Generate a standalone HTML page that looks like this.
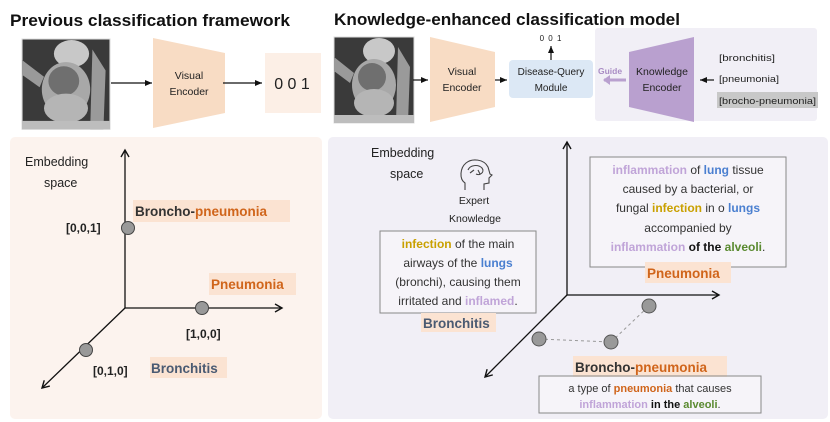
<!DOCTYPE html>
<html><head><meta charset="utf-8"><style>
html,body{margin:0;padding:0;background:#fff;}
svg{display:block;font-family:"Liberation Sans",sans-serif;}
</style></head><body>
<svg width="830" height="422" viewBox="0 0 830 422" xmlns="http://www.w3.org/2000/svg">
<defs>
<marker id="ah" markerWidth="10" markerHeight="10" refX="8" refY="5" orient="auto" markerUnits="userSpaceOnUse"><path d="M1,1 L8,5 L1,9" fill="none" stroke="#111" stroke-width="1.4"/></marker>
<marker id="as" markerWidth="8" markerHeight="8" refX="7" refY="4" orient="auto" markerUnits="userSpaceOnUse"><path d="M0,1 L7,4 L0,7 z" fill="#111"/></marker>
<marker id="ap" markerWidth="8" markerHeight="10" refX="6" refY="5" orient="auto" markerUnits="userSpaceOnUse"><path d="M0,0 L7,5 L0,10 z" fill="#b9a0cf"/></marker>
<g id="xray">
<rect x="0" y="0" width="80" height="86" fill="#3a3a3a"/>
<rect x="0" y="0" width="80" height="86" fill="none" stroke="#ddd" stroke-width="1"/>
<ellipse cx="45" cy="14" rx="16" ry="13" fill="#c8c8c8"/>
<ellipse cx="40" cy="48" rx="22" ry="26" fill="#a8a8a8"/>
<ellipse cx="38" cy="40" rx="14" ry="14" fill="#6f6f6f"/>
<ellipse cx="40" cy="66" rx="20" ry="14" fill="#b5b5b5"/>
<path d="M0,20 L20,36 L16,46 L0,34 z" fill="#9a9a9a"/>
<path d="M64,10 L76,30 L74,86 L62,86 z" fill="#9a9a9a"/>
<rect x="0" y="78" width="80" height="8" fill="#bdbdbd"/>
</g>
</defs>

<text x="10" y="26" font-size="16.5" font-weight="bold" fill="#111" textLength="280" lengthAdjust="spacingAndGlyphs">Previous classification framework</text>
<text x="334" y="25" font-size="16.5" font-weight="bold" fill="#111" textLength="346" lengthAdjust="spacingAndGlyphs">Knowledge-enhanced classification model</text>

<use href="#xray" x="22" y="39" transform="translate(22,39) scale(1.1,1.05) translate(-22,-39)"/>
<line x1="111" y1="83" x2="152" y2="83" stroke="#111" stroke-width="1.2" marker-end="url(#as)"/>
<path d="M153,38 L225,53 L225,113 L153,128 z" fill="#f8dcc4"/>
<text x="189" y="79" font-size="10.5" text-anchor="middle" fill="#222">Visual</text>
<text x="189" y="95" font-size="10.5" text-anchor="middle" fill="#222">Encoder</text>
<line x1="223" y1="83" x2="262" y2="83" stroke="#111" stroke-width="1.2" marker-end="url(#as)"/>
<rect x="265" y="53" width="56" height="60" fill="#fcefe6"/>
<text x="292" y="89" font-size="16" text-anchor="middle" fill="#222">0 0 1</text>

<use href="#xray" x="334" y="37"/>
<line x1="413" y1="80" x2="428" y2="80" stroke="#111" stroke-width="1.2" marker-end="url(#as)"/>
<path d="M430,37 L495,52 L495,107 L430,122 z" fill="#f8dcc4"/>
<text x="462" y="75" font-size="10.5" text-anchor="middle" fill="#222">Visual</text>
<text x="462" y="91" font-size="10.5" text-anchor="middle" fill="#222">Encoder</text>
<line x1="495" y1="80" x2="507" y2="80" stroke="#111" stroke-width="1.2" marker-end="url(#as)"/>
<rect x="509" y="60" width="84" height="38" rx="4" fill="#dce8f5"/>
<text x="551" y="75" font-size="10" text-anchor="middle" fill="#222">Disease-Query</text>
<text x="551" y="91" font-size="10" text-anchor="middle" fill="#222">Module</text>
<line x1="551" y1="60" x2="551" y2="46" stroke="#111" stroke-width="1.2" marker-end="url(#as)"/>
<text x="551" y="41" font-size="8" text-anchor="middle" fill="#222" letter-spacing="1">0 0 1</text>
<rect x="595" y="28" width="222" height="93" rx="3" fill="#f1eff6"/>
<text x="598" y="74" font-size="8.5" font-weight="bold" fill="#a98cc4">Guide</text>
<line x1="626" y1="80" x2="604" y2="80" stroke="#b9a0cf" stroke-width="3" marker-end="url(#ap)"/>
<path d="M629,52 L694,37 L694,122 L629,107 z" fill="#b9a0cf"/>
<text x="662" y="75" font-size="10.5" text-anchor="middle" fill="#222">Knowledge</text>
<text x="662" y="91" font-size="10.5" text-anchor="middle" fill="#222">Encoder</text>
<line x1="714" y1="80" x2="700" y2="80" stroke="#111" stroke-width="1.2" marker-end="url(#as)"/>
<text x="719" y="61" font-size="9.5" fill="#222" textLength="56" lengthAdjust="spacingAndGlyphs">[bronchitis]</text>
<text x="719" y="82" font-size="9.5" fill="#222" textLength="60" lengthAdjust="spacingAndGlyphs">[pneumonia]</text>
<rect x="717" y="92" width="101" height="16" fill="#c8c8c8"/>
<text x="719" y="104" font-size="9.5" fill="#222" textLength="97" lengthAdjust="spacingAndGlyphs">[brocho-pneumonia]</text>

<rect x="10" y="137" width="312" height="282" rx="5" fill="#fcf3ee"/>
<text x="25" y="166" font-size="12.5" fill="#222">Embedding</text>
<text x="44" y="187" font-size="12.5" fill="#222">space</text>
<line x1="125" y1="308" x2="125" y2="150" stroke="#111" stroke-width="1.3" marker-end="url(#ah)"/>
<line x1="125" y1="308" x2="282" y2="308" stroke="#111" stroke-width="1.3" marker-end="url(#ah)"/>
<line x1="125" y1="308" x2="42" y2="388" stroke="#111" stroke-width="1.3" marker-end="url(#ah)"/>
<circle cx="128" cy="228" r="6.5" fill="#999" stroke="#444" stroke-width="1"/>
<circle cx="202" cy="308" r="6.5" fill="#999" stroke="#444" stroke-width="1"/>
<circle cx="86" cy="350" r="6.5" fill="#999" stroke="#444" stroke-width="1"/>
<rect x="133" y="200" width="157" height="22" fill="#fbe3d2"/>
<text x="135" y="216" font-size="13.5" font-weight="bold" fill="#333">Broncho-<tspan fill="#d0651b">pneumonia</tspan></text>
<text x="66" y="232" font-size="12" font-weight="bold" fill="#222">[0,0,1]</text>
<rect x="209" y="273" width="87" height="22" fill="#fbe3d2"/>
<text x="211" y="289" font-size="13.5" font-weight="bold" fill="#d0651b">Pneumonia</text>
<text x="186" y="338" font-size="12" font-weight="bold" fill="#222">[1,0,0]</text>
<text x="93" y="375" font-size="12" font-weight="bold" fill="#222">[0,1,0]</text>
<rect x="150" y="357" width="77" height="21" fill="#fbe3d2"/>
<text x="151" y="373" font-size="13.5" font-weight="bold" fill="#4a5a72">Bronchitis</text>

<rect x="328" y="137" width="500" height="282" rx="5" fill="#f1eff6"/>
<text x="371" y="157" font-size="12.5" fill="#222">Embedding</text>
<text x="390" y="178" font-size="12.5" fill="#222">space</text>
<g fill="none" stroke="#444" stroke-width="1.1">
<path d="M465,190 L465,183 C459,179 460,168 466,163 C472,158 484,159 488,167 L490,174 L492,175 L489,178 L489,183 L484,184 L484,190"/>
<path d="M468,170 C470,165 478,164 482,168 C485,172 480,176 476,174 M470,173 L474,170 M478,170 L480,174"/>
</g>
<text x="474" y="204" font-size="10.5" text-anchor="middle" fill="#222">Expert</text>
<text x="475" y="222" font-size="10.5" text-anchor="middle" fill="#222">Knowledge</text>

<line x1="567" y1="295" x2="567" y2="142" stroke="#111" stroke-width="1.3" marker-end="url(#ah)"/>
<line x1="567" y1="295" x2="719" y2="295" stroke="#111" stroke-width="1.3" marker-end="url(#ah)"/>
<line x1="567" y1="295" x2="485" y2="377" stroke="#111" stroke-width="1.3" marker-end="url(#ah)"/>
<polyline points="539,339 611,342 649,306" fill="none" stroke="#999" stroke-width="1" stroke-dasharray="3,3"/>
<circle cx="649" cy="306" r="7" fill="#999" stroke="#555" stroke-width="1"/>
<circle cx="611" cy="342" r="7" fill="#999" stroke="#555" stroke-width="1"/>
<circle cx="539" cy="339" r="7" fill="#999" stroke="#555" stroke-width="1"/>

<rect x="380" y="231" width="156" height="82" fill="#fff" fill-opacity="0.35" stroke="#888" stroke-width="1"/>
<g font-size="12" text-anchor="middle" fill="#333">
<text x="458" y="248"><tspan fill="#c9a000" font-weight="bold">infection</tspan> of the main</text>
<text x="458" y="267">airways of the  <tspan fill="#4a7fd0" font-weight="bold">lungs</tspan></text>
<text x="458" y="286">(bronchi), causing them</text>
<text x="458" y="305">irritated and <tspan fill="#c0a4d8" font-weight="bold">inflamed</tspan>.</text>
</g>
<rect x="421" y="313" width="75" height="19" fill="#fbe3d2"/>
<text x="423" y="328" font-size="13.5" font-weight="bold" fill="#4a5a72">Bronchitis</text>

<rect x="590" y="157" width="196" height="110" fill="#fff" fill-opacity="0.35" stroke="#888" stroke-width="1"/>
<g font-size="12" text-anchor="middle" fill="#333">
<text x="688" y="174"><tspan fill="#c0a4d8" font-weight="bold">inflammation</tspan> of <tspan fill="#4a7fd0" font-weight="bold">lung</tspan> tissue</text>
<text x="688" y="193">caused by a  bacterial, or</text>
<text x="688" y="212">fungal <tspan fill="#c9a000" font-weight="bold">infection</tspan> in o <tspan fill="#4a7fd0" font-weight="bold">lungs</tspan></text>
<text x="688" y="232">accompanied by</text>
<text x="688" y="251"><tspan fill="#c0a4d8" font-weight="bold">inflammation</tspan> <tspan font-weight="bold" fill="#111">of the</tspan> <tspan fill="#5a8a30" font-weight="bold">alveoli</tspan>.</text>
</g>
<rect x="645" y="262" width="86" height="21" fill="#fbe3d2"/>
<text x="647" y="278" font-size="13.5" font-weight="bold" fill="#d0651b">Pneumonia</text>

<rect x="573" y="356" width="154" height="21" fill="#fbe3d2"/>
<text x="575" y="372" font-size="13.5" font-weight="bold" fill="#333">Broncho-<tspan fill="#d0651b">pneumonia</tspan></text>
<rect x="539" y="376" width="222" height="37" fill="#fff" fill-opacity="0.35" stroke="#888" stroke-width="1"/>
<g font-size="11" text-anchor="middle" fill="#333">
<text x="650" y="392">a type  of  <tspan fill="#d0651b" font-weight="bold">pneumonia</tspan> that causes</text>
<text x="650" y="408"><tspan fill="#c0a4d8" font-weight="bold">inflammation</tspan> <tspan font-weight="bold" fill="#111">in the</tspan> <tspan fill="#5a8a30" font-weight="bold">alveoli</tspan>.</text>
</g>
</svg>
</body></html>
